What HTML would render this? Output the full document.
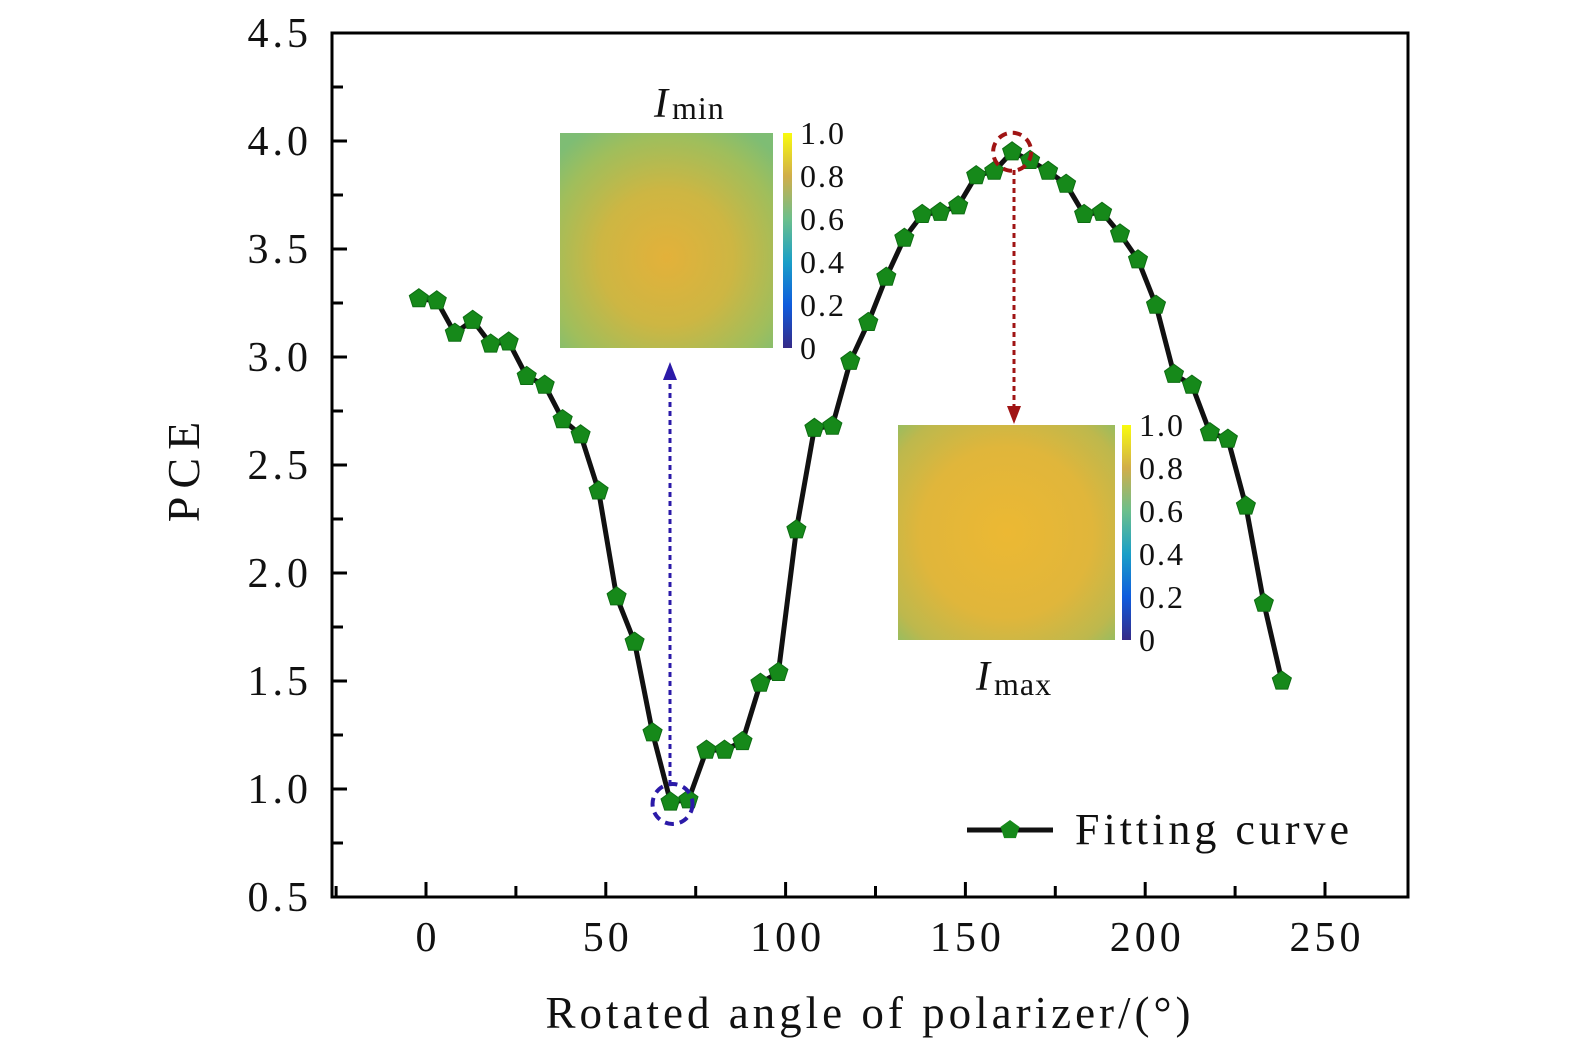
<!DOCTYPE html>
<html><head><meta charset="utf-8"><style>
body{margin:0;background:#fff}
svg{display:block}
text{font-family:"Liberation Serif",serif;fill:#111}
</style></head><body>
<svg id="c" width="1575" height="1053">
<defs>
<radialGradient id="gmin" cx="0.5" cy="0.58" r="0.7">
<stop offset="0" stop-color="#e3b13a"/><stop offset="0.45" stop-color="#cdb643"/><stop offset="0.8" stop-color="#9fbe5c"/><stop offset="1" stop-color="#7ebd74"/>
</radialGradient>
<radialGradient id="gmax" cx="0.5" cy="0.5" r="0.72">
<stop offset="0" stop-color="#ecb833"/><stop offset="0.55" stop-color="#e0b63b"/><stop offset="0.85" stop-color="#bdb84d"/><stop offset="1" stop-color="#94bd62"/>
</radialGradient>
<linearGradient id="cb" x1="0" y1="1" x2="0" y2="0">
<stop offset="0" stop-color="#352a87"/><stop offset="0.2" stop-color="#0f5cdd"/><stop offset="0.4" stop-color="#1a9fc7"/><stop offset="0.6" stop-color="#6cbf8c"/><stop offset="0.8" stop-color="#d1ae4a"/><stop offset="1" stop-color="#f9fb0e"/>
</linearGradient>
</defs>
<g id="axes"></g>
<g id="insets">
<text x="668" y="117" font-size="42" font-style="italic" text-anchor="end">I</text>
<text x="672" y="119" font-size="32" letter-spacing="1">min</text>
<rect x="560" y="133" width="213" height="215" fill="url(#gmin)"/>
<rect x="783" y="133" width="9" height="215" fill="url(#cb)"/>
<rect x="898" y="425" width="217" height="215" fill="url(#gmax)"/>
<rect x="1122" y="425" width="9" height="215" fill="url(#cb)"/>
<text x="990" y="690" font-size="42" font-style="italic" text-anchor="end">I</text>
<text x="994" y="695" font-size="32" letter-spacing="1">max</text>
</g>
<g id="plot"></g>
</svg>
<script>
const angles=[-2,3,8,13,18,23,28,33,38,43,48,53,58,63,68,73,78,83,88,93,98,103,108,113,118,123,128,133,138,143,148,153,158,163,168,173,178,183,188,193,198,203,208,213,218,223,228,233,238];
const pce=[3.27,3.26,3.11,3.17,3.06,3.07,2.91,2.87,2.71,2.64,2.38,1.89,1.68,1.26,0.94,0.95,1.18,1.18,1.22,1.49,1.54,2.20,2.67,2.68,2.98,3.16,3.37,3.55,3.66,3.67,3.70,3.84,3.86,3.95,3.91,3.86,3.80,3.66,3.67,3.57,3.45,3.24,2.92,2.87,2.65,2.62,2.31,1.86,1.50];
const xTicks=[0,50,100,150,200,250];
const yTicks=[0.5,1.0,1.5,2.0,2.5,3.0,3.5,4.0,4.5];
const cbTicks=["1.0","0.8","0.6","0.4","0.2","0"];
const NS="http://www.w3.org/2000/svg";
const L=332,R=1408,T=33,B=897;
const X=v=>426+(v-0)*(1325-426)/250;
const Y=v=>B-(v-0.5)*(B-T)/4;
function mk(tag,attrs,parent){const e=document.createElementNS(NS,tag);for(const k in attrs)e.setAttribute(k,attrs[k]);parent.appendChild(e);return e;}
const ax=document.getElementById('axes'),pl=document.getElementById('plot'),ins=document.getElementById('insets');
let f=mk('rect',{x:L,y:T,width:R-L,height:B-T,fill:'none',stroke:'#000','stroke-width':3},ax);


for(let v=-25;v<=275;v+=25){const x=X(v);if(x<=L||x>=R)continue;const big=v%50===0;
 let t=mk('line',{x1:x,x2:x,y1:B,y2:B-(big?15:11),stroke:'#000','stroke-width':3},ax);
 
 }
xTicks.forEach(v=>{let t=mk('text',{x:X(v)+2,y:951,'font-size':42,'letter-spacing':4,'text-anchor':'middle'},ax);t.textContent=v;
 
 });
for(let v=0.5;v<=4.51;v+=0.25){const y=Y(v);const big=Math.abs(v*2-Math.round(v*2))<1e-6;
 if(Math.abs(y-T)>2&&Math.abs(y-B)>2){let t=mk('line',{x1:L,x2:L+(big?15:11),y1:y,y2:y,stroke:'#000','stroke-width':3},ax);
 
 }}
yTicks.forEach(v=>{let t=mk('text',{x:312,y:Y(v)+14,'font-size':42,'letter-spacing':4,'text-anchor':'end'},ax);t.textContent=v.toFixed(1);
 
 });
let yt=mk('text',{x:0,y:0,'font-size':46,'letter-spacing':8,'text-anchor':'middle',transform:'translate(199,468) rotate(-90)'},ax);yt.textContent='PCE';


let xt=mk('text',{x:870,y:1028,'font-size':45,'text-anchor':'middle','letter-spacing':'4'},ax);xt.textContent='Rotated angle of polarizer/(°)';


[[800,133],[1139,425]].forEach(([x0,y0])=>{cbTicks.forEach((s,i)=>{let t=mk('text',{x:x0,y:y0+i*43+11,'font-size':32,'letter-spacing':2},ins);t.textContent=s;
 
 });});
let pts=angles.map((a,i)=>X(a)+','+Y(pce[i])).join(' ');
let ln=mk('polyline',{points:pts,fill:'none',stroke:'#111','stroke-width':5,'stroke-linejoin':'round'},pl);


function pent(cx,cy,r){let p=[];for(let k=0;k<5;k++){const a=-Math.PI/2+k*2*Math.PI/5;p.push((cx+r*Math.cos(a)).toFixed(1)+','+(cy+r*Math.sin(a)).toFixed(1));}return p.join(' ');}
angles.forEach((a,i)=>{let m=mk('polygon',{points:pent(X(a),Y(pce[i]),10),fill:'#16891a',stroke:'#0d6e12','stroke-width':1},pl);
 
 });
const imin=14,imax=33;
let c1=mk('circle',{cx:X(angles[imin])+2,cy:Y(pce[imin])+2,r:20,fill:'none',stroke:'#2b1aa8','stroke-width':4,'stroke-dasharray':'9 6'},pl);


let c2=mk('circle',{cx:X(angles[imax]),cy:Y(pce[imax]),r:19,fill:'none',stroke:'#a01414','stroke-width':4,'stroke-dasharray':'9 6'},pl);


let a1=mk('line',{x1:670,x2:670,y1:785,y2:378,stroke:'#2b1aa8','stroke-width':3,'stroke-dasharray':'5 4'},pl);


let h1=mk('polygon',{points:'670,362 663,380 677,380',fill:'#2b1aa8'},pl);


let a2=mk('line',{x1:1014,x2:1014,y1:170,y2:408,stroke:'#a01414','stroke-width':3,'stroke-dasharray':'5 4'},pl);


let h2=mk('polygon',{points:'1014,424 1007,406 1021,406',fill:'#a01414'},pl);


let lg=mk('line',{x1:967,x2:1053,y1:830,y2:830,stroke:'#111','stroke-width':5},pl);


let lm=mk('polygon',{points:pent(1010,830,10),fill:'#16891a'},pl);


let lt=mk('text',{x:1075,y:844,'font-size':44,'letter-spacing':'4'},pl);lt.textContent='Fitting curve';


</script>
</body></html>
